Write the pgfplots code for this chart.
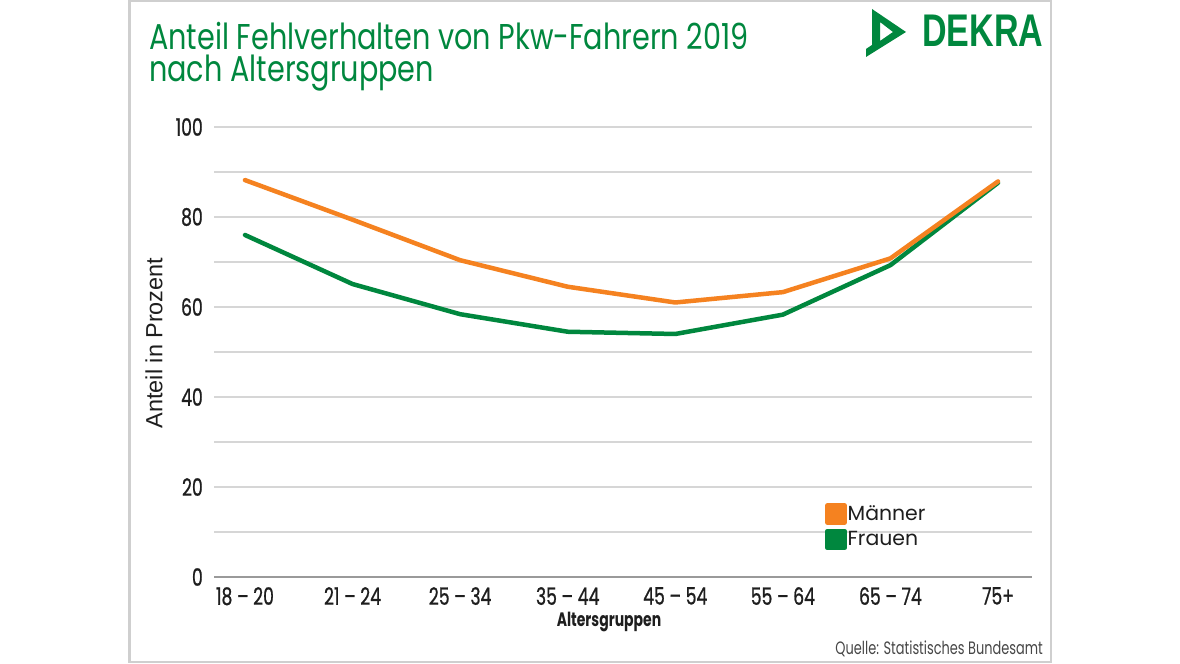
\documentclass[border=0pt]{standalone}
\usepackage{fontspec}
\setmainfont{Poppins}
\newfontfamily\titlef[FakeStretch=0.8]{Poppins}
\newfontfamily\cond[FakeStretch=0.72]{Poppins}
\newfontfamily\condm[FakeStretch=0.72,FakeBold=0.8]{Poppins}
\newfontfamily\arialf{Liberation Sans}
\usepackage{pgfplots}
\pgfplotsset{compat=1.18}
\definecolor{dorange}{HTML}{F58220}
\definecolor{dgreen}{HTML}{00873E}
\definecolor{gridc}{HTML}{D6D6D6}
\definecolor{framec}{HTML}{CFCFCF}
\definecolor{axisc}{HTML}{9A9A9A}
\definecolor{txt}{HTML}{1E1E1E}

\pgfplotstableread{
x maenner frauen
0 88.2 76.0
1 79.4 65.1
2 70.4 58.4
3 64.5 54.5
4 61.0 54.0
5 63.3 58.3
6 70.8 69.3
7 87.9 87.6
}\datatable

\begin{document}
\begin{tikzpicture}[x=1bp,y=1bp]
\fill[white] (0,0) rectangle (1180,664);
\draw[framec, line width=2.5bp] (129.25,662.75) rectangle (1050.75,1.75);

% title
\node[anchor=base west, inner sep=0pt, text depth=0pt, text=dgreen, font=\titlef\fontsize{36}{40}\selectfont] at (149,614) {Anteil Fehlverhalten von Pkw-Fahrern 2019};
\node[anchor=base west, inner sep=0pt, text=dgreen, font=\titlef\fontsize{36}{40}\selectfont] at (149,582) {nach Altersgruppen};

% logo
\fill[dgreen, even odd rule] (872,655) -- (906,632) -- (866,607) -- (866,615) -- (872,619) -- cycle
      (880,642) -- (893,632) -- (880,623) -- cycle;
\node[anchor=base west, inner sep=0pt, text=dgreen] at (922,617.3) {\resizebox{121bp}{31.5bp}{\arialf\bfseries DEKRA}};

\begin{axis}[
  at={(214bp,87bp)}, anchor=south west,
  scale only axis, width=818bp, height=450bp,
  xmin=-0.288, xmax=7.316, ymin=0, ymax=100,
  xtick={0,...,7},
  xticklabels={18 – 20, 21 – 24, 25 – 34, 35 – 44, 45 – 54, 55 – 64, 65 – 74, 75+},
  ytick={0,20,...,100},
  minor ytick={10,30,...,90},
  ymajorgrids, yminorgrids,
  major grid style={draw=gridc, line width=2bp},
  minor grid style={draw=gridc, line width=2bp},
  axis line style={draw=none},
  major tick length=0pt, minor tick length=0pt,
  tick style={draw=none},
  /pgf/number format/assume math mode=true,
  xticklabel style={font=\condm\fontsize{24}{28}\selectfont, text=txt, anchor=north, inner sep=0pt, yshift=-10bp},
  yticklabel style={font=\condm\fontsize{24}{28}\selectfont, text=txt, anchor=east, inner sep=0pt, xshift=-11bp},
  legend style={at={(0.7469,0.1644)}, anchor=north west, draw=none, fill=none,
     font=\fontsize{20.5}{24}\selectfont, text=txt, inner sep=0pt, row sep=4bp,
     nodes={inner sep=1bp}},
  legend cell align=left,
  reverse legend,
  legend image code/.code={\fill[#1] (0bp,-8.5bp) rectangle (17bp,8.5bp);},
  clip=false,
]
\draw[axisc, line width=2.5bp] (rel axis cs:0,0) -- (rel axis cs:1,0);
\addplot[dgreen, line width=4.5bp, line join=round, line cap=round] table[x=x, y=frauen] {\datatable};
\addlegendentry{Frauen}
\addplot[dorange, line width=4.5bp, line join=round, line cap=round] table[x=x, y=maenner] {\datatable};
\addlegendentry{Männer}
\end{axis}

\node[rotate=90, inner sep=0pt, text=txt, font=\arialf\fontsize{23.5}{28}\selectfont] at (154,321) {Anteil in Prozent};
\node[anchor=base, inner sep=0pt, text=txt, font=\cond\bfseries\fontsize{19.5}{22}\selectfont] at (609,37) {Altersgruppen};
\node[anchor=base east, inner sep=0pt, text=black!72, font=\cond\fontsize{18}{22}\selectfont] at (1043,9) {Quelle: Statistisches Bundesamt};
\end{tikzpicture}
\end{document}
